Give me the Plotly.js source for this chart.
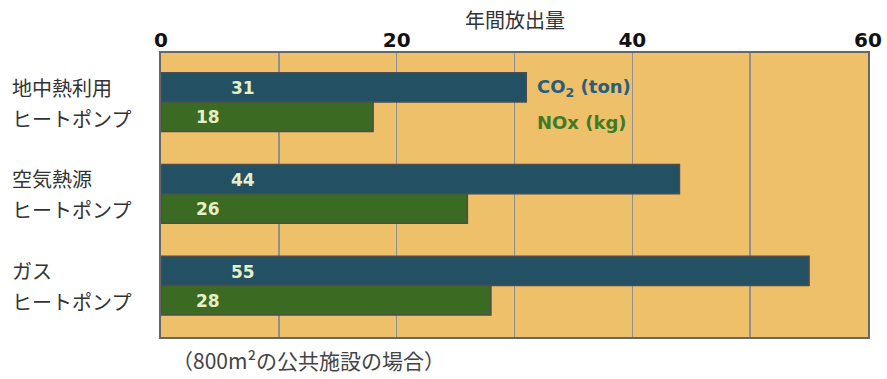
<!DOCTYPE html>
<html>
<head>
<meta charset="utf-8">
<script src="https://cdn.plot.ly/plotly-3.0.1.min.js"></script>
<style>
  html, body { margin: 0; padding: 0; background: #ffffff; }
  #chart { width: 887px; height: 379px; }
</style>
</head>
<body>
<div id="chart"></div>
<script>
// Annual emissions by heat source
const sources = ['地中熱利用', '空気熱源', 'ガス'];
const subLabel = 'ヒートポンプ';
const co2Values = [31, 44, 55];   // ton
const noxValues = [18, 26, 28];   // kg
const seriesNames = ['CO₂ (ton)', 'NOx (kg)'];
const tickValues = [0, 20, 40, 60];
const tickLabels = ['0', '20', '40', '60'];

const jpFont = '"Noto Sans CJK JP", "Noto Sans", sans-serif';
const numFont = '"DejaVu Sans", "Liberation Sans", sans-serif';
const co2Color = '#245064';
const noxColor = '#3b6a22';
const edge = {color: '#4d4d4d', width: 1.5};

const traces = [
  {
    type: 'bar', orientation: 'h', name: seriesNames[0],
    y: sources, x: co2Values,
    marker: {color: co2Color, line: edge},
    hoverinfo: 'skip'
  },
  {
    type: 'bar', orientation: 'h', name: seriesNames[1],
    y: sources, x: noxValues,
    marker: {color: noxColor, line: edge},
    hoverinfo: 'skip'
  }
];

const annotations = [];
sources.forEach((s, i) => {
  // two-line row label on the left
  annotations.push({
    xref: 'paper', yref: 'y', x: -0.213, y: s, xanchor: 'left', yanchor: 'middle',
    yshift: 15, text: s, showarrow: false,
    font: {family: jpFont, size: 20, color: '#333333'}
  });
  annotations.push({
    xref: 'paper', yref: 'y', x: -0.213, y: s, xanchor: 'left', yanchor: 'middle',
    yshift: -16, text: subLabel, showarrow: false,
    font: {family: jpFont, size: 20, color: '#333333'}
  });
  // value labels inside the bars
  annotations.push({
    xref: 'x', yref: 'y', x: 7, y: s, xanchor: 'center', yanchor: 'middle',
    yshift: 14, text: String(co2Values[i]), showarrow: false,
    font: {family: numFont, size: 17, color: '#e6efc6', weight: 'bold'}
  });
  annotations.push({
    xref: 'x', yref: 'y', x: 4, y: s, xanchor: 'center', yanchor: 'middle',
    yshift: -15, text: String(noxValues[i]), showarrow: false,
    font: {family: numFont, size: 17, color: '#e6efc6', weight: 'bold'}
  });
});

// series key next to the first pair of bars
annotations.push({
  xref: 'x', yref: 'y', x: 31.7, y: sources[0], xanchor: 'left', yanchor: 'middle',
  yshift: 14, text: 'CO<sub>2</sub> (ton)', showarrow: false,
  font: {family: numFont, size: 18, color: '#2a5d7c', weight: 'bold'}
});
annotations.push({
  xref: 'x', yref: 'y', x: 31.7, y: sources[0], xanchor: 'left', yanchor: 'middle',
  yshift: -20, text: seriesNames[1], showarrow: false,
  font: {family: numFont, size: 18, color: '#3f7a26', weight: 'bold'}
});

// footnote
annotations.push({
  xref: 'paper', yref: 'paper', x: 0.208, y: 0, xanchor: 'center', yanchor: 'top',
  yshift: -6, text: '（800m²の公共施設の場合）', showarrow: false,
  font: {family: jpFont, size: 21, color: '#444444'}
});

// axis caption above the tick labels
annotations.push({
  xref: 'paper', yref: 'paper', x: 0.5, y: 1, xanchor: 'center', yanchor: 'bottom',
  yshift: 17, text: '年間放出量', showarrow: false,
  font: {family: jpFont, size: 20, color: '#333333'}
});

const layout = {
  width: 887, height: 379,
  margin: {l: 161, r: 19, t: 53, b: 42},
  paper_bgcolor: '#ffffff',
  plot_bgcolor: '#eec06a',
  showlegend: false,
  barmode: 'group',
  bargap: 0.36,
  bargroupgap: 0,
  xaxis: {
    side: 'top',
    range: [0, 60],
    tickvals: tickValues,
    ticktext: tickLabels,
    ticks: '',
    showgrid: true,
    gridcolor: '#8f8f8f',
    gridwidth: 1.5,
    minor: {dtick: 10, tick0: 0, showgrid: true, gridcolor: '#8f8f8f', gridwidth: 1.5, ticks: ''},
    zeroline: false,
    showline: true,
    linecolor: '#666666',
    linewidth: 2,
    mirror: true,
    tickfont: {family: numFont, size: 20, color: '#111111', weight: 'bold'},
    ticklabelstandoff: -4,
    fixedrange: true
  },
  yaxis: {
    type: 'category',
    range: [2.56, -0.535],
    showticklabels: false,
    ticks: '',
    showgrid: false,
    zeroline: false,
    showline: true,
    linecolor: '#666666',
    linewidth: 2,
    mirror: true,
    fixedrange: true
  },
  annotations: annotations
};

Plotly.newPlot('chart', traces, layout, {displayModeBar: false, staticPlot: true});
</script>
</body>
</html>
